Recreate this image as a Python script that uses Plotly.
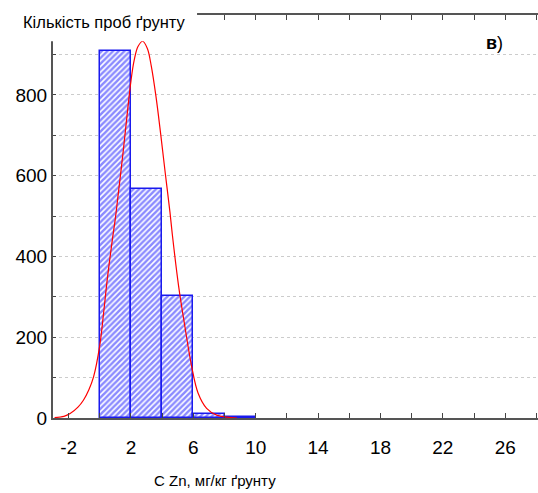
import plotly.graph_objects as go

# Histogram data (C Zn, mg/kg soil)
bin_left = [0, 2, 4, 6, 8]
bin_width = 2
counts = [909, 566, 302, 11, 3]

# Fitted normal curve
curve_x = [-2.9, -2.3, -1.9, -1.4, -1.05, -0.7, -0.4, 0.0, 0.25, 0.5, 0.8, 1.0, 1.2, 1.5,
           1.75, 2.0, 2.2, 2.45, 2.75, 3.05, 3.3, 3.6, 3.9, 4.2, 4.5, 4.65, 5.05, 5.45,
           5.9, 6.3, 6.85, 7.5, 8.15, 8.8]
curve_y = [1, 4, 11, 27, 44, 70, 102, 180, 262, 350, 440, 495, 560, 660,
           750, 835, 885, 920, 933, 915, 872, 797, 705, 606, 510, 455, 328, 228,
           126, 62, 24, 7, 2, 0]

x_tickvals = [-2, 2, 6, 10, 14, 18, 22, 26]
x_ticktext = ["-2", "2", "6", "10", "14", "18", "22", "26"]
y_tickvals = [0, 200, 400, 600, 800]

y_title = "Кількість проб ґрунту"
x_title = "C Zn, мг/кг ґрунту"
panel_label = "<b>в</b>)"

FONT = "Liberation Sans, Arial, sans-serif"

fig = go.Figure()
fig.add_trace(go.Bar(
    x=bin_left, y=counts, width=bin_width, offset=0,
    marker=dict(color="#ffffff",
                line=dict(color="#1a1aee", width=1.5),
                pattern=dict(shape="/", fgcolor="#1515ff", bgcolor="#ffffff",
                             size=4, solidity=0.62)),
    showlegend=False,
))
fig.add_trace(go.Scatter(
    x=curve_x, y=curve_y, mode="lines",
    line=dict(color="#ff0000", width=1.2, shape="spline"),
    showlegend=False,
))

fig.update_layout(
    width=538, height=493,
    margin=dict(l=53, r=0, t=15, b=75),
    paper_bgcolor="#ffffff", plot_bgcolor="#ffffff",
    font=dict(family=FONT, color="#000000"),
    bargap=0,
    xaxis=dict(
        range=[-3, 28.1], tickmode="array", tickvals=x_tickvals, ticktext=x_ticktext,
        ticks="inside", ticklen=5, tickcolor="#444444",
        minor=dict(dtick=2, tick0=0, ticks="inside", ticklen=5, tickcolor="#444444"),
        showline=True, linecolor="#555555", linewidth=2, mirror="ticks",
        showgrid=False, zeroline=False, automargin=False,
        tickfont=dict(size=19, family=FONT), ticklabelstandoff=11,
    ),
    yaxis=dict(
        range=[0, 998], tickmode="array", tickvals=y_tickvals,
        ticks="inside", ticklen=3, tickcolor="#444444",
        minor=dict(dtick=100, ticks="inside", ticklen=3, tickcolor="#444444",
                   showgrid=True, gridcolor="#cccccc", griddash="dot", gridwidth=1),
        showline=True, linecolor="#555555", linewidth=2,
        showgrid=True, gridcolor="#cccccc", griddash="dot", gridwidth=1,
        zeroline=False, automargin=False,
        tickfont=dict(size=19, family=FONT), ticklabelstandoff=0,
    ),
    shapes=[dict(type="rect", xref="paper", yref="paper",
                 x0=-0.09, x1=0.297, y0=0.935, y1=1.03,
                 fillcolor="#ffffff", line=dict(width=0), layer="above")],
    annotations=[
        dict(text=y_title, xref="paper", yref="paper", x=-0.066, y=1,
             xanchor="left", yanchor="middle", yshift=-7, showarrow=False,
             font=dict(size=16.5, family=FONT)),
        dict(text=x_title, xref="paper", yref="paper", x=0.334, y=0,
             xanchor="center", yanchor="middle", yshift=-62, showarrow=False,
             font=dict(size=15, family=FONT)),
        dict(text=panel_label, xref="paper", yref="paper", x=0.911, y=1,
             xanchor="center", yanchor="middle", yshift=-28, showarrow=False,
             font=dict(size=18, family=FONT)),
    ],
)

fig.write_html("out.html", config={"displayModeBar": False},
               post_script="document.body.style.margin='0';document.body.style.overflow='hidden';")
